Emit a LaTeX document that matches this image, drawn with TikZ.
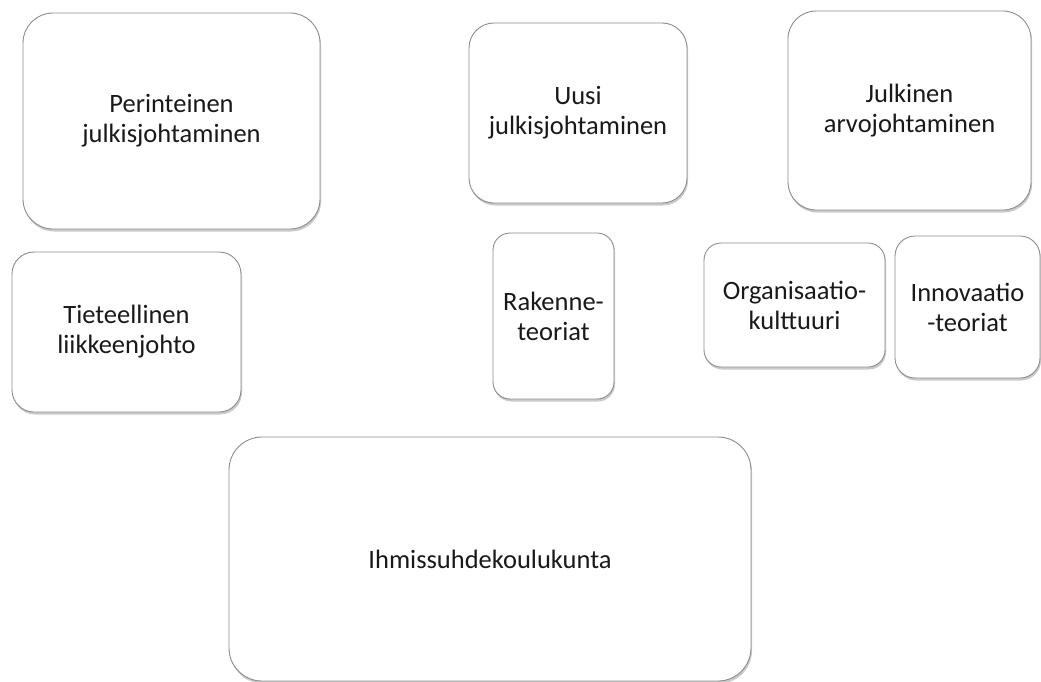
\documentclass[tikz,border=0pt]{standalone}
\usepackage{fontspec}
\setmainfont{Carlito}
\usetikzlibrary{shadows}
\begin{document}
\begin{tikzpicture}[x=1pt,y=-1pt,
  card/.style={draw=black!45, line width=0.9pt, fill=white, align=center,
    inner sep=0pt, font=\fontsize{26.5}{30}\selectfont, text=black!90,
    drop shadow={shadow xshift=1pt, shadow yshift=-2.5pt, opacity=0.35, fill=black!60}},
]
\useasboundingbox (0,0) rectangle (1041,681);
\node[card, minimum width=297pt, minimum height=216pt, rounded corners=30pt] (per) at (171.5,121) {Perinteinen\\julkisjohtaminen};
\node[card, minimum width=229pt, minimum height=160pt, rounded corners=22pt] (tie) at (126.5,332) {Tieteellinen\\liikkeenjohto};
\node[card, minimum width=218pt, minimum height=180pt, rounded corners=25pt] (uusi) at (578,113) {Uusi\\julkisjohtaminen};
\node[card, minimum width=243pt, minimum height=199pt, rounded corners=28pt] (jul) at (909.5,110.5) {Julkinen\\arvojohtaminen};
\node[card, minimum width=121pt, minimum height=166pt, rounded corners=17pt] (rak) at (553.5,316) {Rakenne-\\teoriat};
\node[card, minimum width=181pt, minimum height=124pt, rounded corners=17pt] (org) at (794.5,305) {Organisaatio-\\kulttuuri};
\node[card, minimum width=145pt, minimum height=142pt, rounded corners=20pt] (inn) at (967.5,307) {Innovaatio\\-teoriat};
\node[card, minimum width=522pt, minimum height=244pt, rounded corners=33pt] (ihm) at (490,559) {Ihmissuhdekoulukunta};
\end{tikzpicture}
\end{document}
